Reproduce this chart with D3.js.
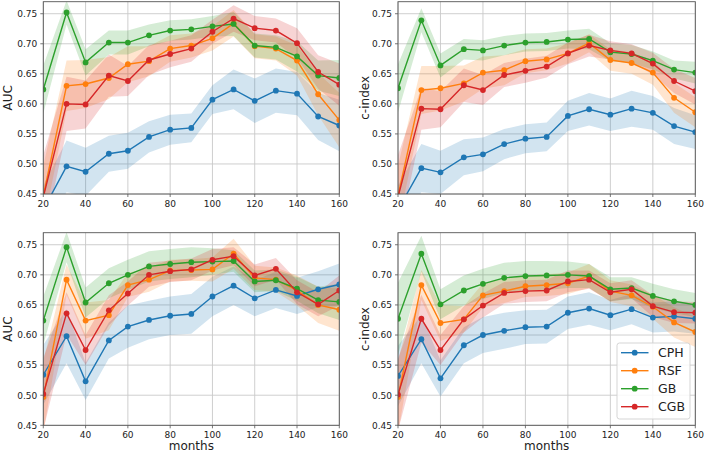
<!DOCTYPE html>
<html>
<head>
<meta charset="utf-8">
<script src="https://cdn.jsdelivr.net/npm/d3@7"></script>
<style>
  html, body { margin: 0; padding: 0; background: #fff; }
  svg { display: block; font-family: "DejaVu Sans", sans-serif; }
</style>
</head>
<body>
<svg id="chart" width="704" height="454"></svg>
<script>
// ---------------- DATA ----------------
const months = [20, 31, 40, 51, 60, 70, 80, 90, 100, 110, 120, 130, 140, 150, 160];
const xTicks = [20, 40, 60, 80, 100, 120, 140, 160];
const yTicks = [0.45, 0.50, 0.55, 0.60, 0.65, 0.70, 0.75];
const seriesNames = ["CPH", "RSF", "GB", "CGB"];
const seriesColors = ["#1f77b4", "#ff7f0e", "#2ca02c", "#d62728"];

// Panel 1: top-left, AUC
const p1_CPH     = [0.424, 0.496, 0.487, 0.517, 0.522, 0.545, 0.557, 0.560, 0.607, 0.624, 0.605, 0.622, 0.617, 0.579, 0.564];
const p1_CPH_err = [0.040, 0.043, 0.040, 0.030, 0.030, 0.026, 0.025, 0.024, 0.024, 0.033, 0.037, 0.037, 0.036, 0.039, 0.043];
const p1_RSF     = [0.447, 0.630, 0.633, 0.643, 0.666, 0.671, 0.692, 0.697, 0.709, 0.734, 0.696, 0.692, 0.672, 0.616, 0.573];
const p1_RSF_err = [0.050, 0.042, 0.040, 0.035, 0.030, 0.025, 0.022, 0.020, 0.020, 0.022, 0.020, 0.020, 0.025, 0.035, 0.045];
const p1_GB      = [0.624, 0.752, 0.669, 0.702, 0.702, 0.714, 0.722, 0.724, 0.729, 0.733, 0.697, 0.694, 0.679, 0.647, 0.643];
const p1_GB_err  = [0.040, 0.020, 0.022, 0.020, 0.020, 0.018, 0.017, 0.017, 0.017, 0.020, 0.020, 0.020, 0.025, 0.025, 0.030];
const p1_CGB     = [0.445, 0.600, 0.599, 0.647, 0.638, 0.673, 0.683, 0.692, 0.720, 0.742, 0.726, 0.722, 0.701, 0.653, 0.632];
const p1_CGB_err = [0.070, 0.045, 0.040, 0.035, 0.025, 0.025, 0.022, 0.022, 0.020, 0.022, 0.020, 0.020, 0.025, 0.028, 0.035];

// Panel 2: top-right, c-index
const p2_CPH     = [0.424, 0.493, 0.486, 0.511, 0.516, 0.533, 0.542, 0.545, 0.580, 0.591, 0.582, 0.592, 0.585, 0.563, 0.553];
const p2_CPH_err = [0.040, 0.040, 0.036, 0.030, 0.028, 0.025, 0.024, 0.024, 0.025, 0.027, 0.027, 0.030, 0.028, 0.030, 0.028];
const p2_RSF     = [0.447, 0.623, 0.626, 0.634, 0.652, 0.656, 0.671, 0.674, 0.684, 0.701, 0.673, 0.668, 0.652, 0.610, 0.586];
const p2_RSF_err = [0.050, 0.040, 0.037, 0.030, 0.027, 0.025, 0.020, 0.018, 0.017, 0.015, 0.018, 0.018, 0.020, 0.025, 0.025];
const p2_GB      = [0.626, 0.739, 0.664, 0.691, 0.689, 0.697, 0.702, 0.703, 0.707, 0.708, 0.686, 0.683, 0.672, 0.657, 0.652];
const p2_GB_err  = [0.040, 0.020, 0.020, 0.017, 0.017, 0.016, 0.015, 0.015, 0.015, 0.017, 0.015, 0.015, 0.015, 0.015, 0.018];
const p2_CGB     = [0.445, 0.592, 0.591, 0.631, 0.623, 0.648, 0.655, 0.662, 0.684, 0.697, 0.689, 0.684, 0.667, 0.638, 0.621];
const p2_CGB_err = [0.070, 0.035, 0.030, 0.028, 0.025, 0.020, 0.020, 0.018, 0.018, 0.018, 0.015, 0.015, 0.018, 0.020, 0.022];

// Panel 3: bottom-left, AUC
const p3_CPH     = [0.534, 0.598, 0.523, 0.591, 0.614, 0.625, 0.632, 0.635, 0.664, 0.682, 0.661, 0.675, 0.665, 0.676, 0.684];
const p3_CPH_err = [0.050, 0.045, 0.031, 0.030, 0.035, 0.032, 0.032, 0.033, 0.033, 0.032, 0.030, 0.030, 0.030, 0.030, 0.035];
const p3_RSF     = [0.497, 0.692, 0.624, 0.633, 0.683, 0.692, 0.707, 0.708, 0.709, 0.735, 0.695, 0.692, 0.674, 0.650, 0.642];
const p3_RSF_err = [0.060, 0.025, 0.030, 0.025, 0.020, 0.020, 0.018, 0.018, 0.020, 0.025, 0.020, 0.020, 0.025, 0.030, 0.035];
const p3_GB      = [0.624, 0.746, 0.654, 0.686, 0.700, 0.714, 0.718, 0.721, 0.722, 0.723, 0.689, 0.691, 0.677, 0.658, 0.655];
const p3_GB_err  = [0.040, 0.025, 0.025, 0.025, 0.025, 0.025, 0.025, 0.025, 0.022, 0.018, 0.018, 0.018, 0.020, 0.022, 0.030];
const p3_CGB     = [0.502, 0.636, 0.575, 0.641, 0.669, 0.700, 0.706, 0.709, 0.725, 0.731, 0.699, 0.710, 0.671, 0.651, 0.674];
const p3_CGB_err = [0.060, 0.035, 0.025, 0.025, 0.020, 0.020, 0.018, 0.018, 0.018, 0.015, 0.018, 0.018, 0.020, 0.020, 0.025];

// Panel 4: bottom-right, c-index
const p4_CPH     = [0.532, 0.593, 0.528, 0.583, 0.600, 0.607, 0.613, 0.614, 0.637, 0.644, 0.633, 0.643, 0.629, 0.631, 0.627];
const p4_CPH_err = [0.050, 0.040, 0.030, 0.030, 0.030, 0.030, 0.028, 0.028, 0.027, 0.027, 0.025, 0.025, 0.025, 0.025, 0.025];
const p4_RSF     = [0.497, 0.683, 0.620, 0.626, 0.666, 0.673, 0.681, 0.683, 0.686, 0.698, 0.673, 0.666, 0.647, 0.621, 0.605];
const p4_RSF_err = [0.060, 0.025, 0.030, 0.022, 0.020, 0.020, 0.018, 0.018, 0.018, 0.020, 0.018, 0.018, 0.020, 0.025, 0.025];
const p4_GB      = [0.627, 0.735, 0.651, 0.674, 0.685, 0.695, 0.698, 0.699, 0.700, 0.698, 0.676, 0.678, 0.665, 0.656, 0.650];
const p4_GB_err  = [0.060, 0.030, 0.025, 0.025, 0.025, 0.025, 0.025, 0.024, 0.022, 0.020, 0.020, 0.018, 0.020, 0.020, 0.020];
const p4_CGB     = [0.501, 0.627, 0.575, 0.626, 0.649, 0.670, 0.673, 0.674, 0.689, 0.692, 0.671, 0.676, 0.648, 0.638, 0.637];
const p4_CGB_err = [0.060, 0.040, 0.025, 0.022, 0.020, 0.018, 0.018, 0.018, 0.018, 0.015, 0.015, 0.015, 0.018, 0.018, 0.018];

// ---------------- PANELS ----------------
const panels = [
  { id: "p1", ylabel: "AUC",     xlabel: null,     x0: 43.3, x1: 339.3, y0: 1.7,   y1: 194.0, yl: 11.7,  legend: false,
    series: [[p1_CPH, p1_CPH_err], [p1_RSF, p1_RSF_err], [p1_GB, p1_GB_err], [p1_CGB, p1_CGB_err]] },
  { id: "p2", ylabel: "c-index", xlabel: null,     x0: 398.0, x1: 695.3, y0: 1.7,  y1: 194.0, yl: 369.3, legend: false,
    series: [[p2_CPH, p2_CPH_err], [p2_RSF, p2_RSF_err], [p2_GB, p2_GB_err], [p2_CGB, p2_CGB_err]] },
  { id: "p3", ylabel: "AUC",     xlabel: "months", x0: 43.3, x1: 339.3, y0: 232.7, y1: 425.3, yl: 11.7,  legend: false,
    series: [[p3_CPH, p3_CPH_err], [p3_RSF, p3_RSF_err], [p3_GB, p3_GB_err], [p3_CGB, p3_CGB_err]] },
  { id: "p4", ylabel: "c-index", xlabel: "months", x0: 398.0, x1: 695.3, y0: 232.7, y1: 425.3, yl: 369.3, legend: true,
    series: [[p4_CPH, p4_CPH_err], [p4_RSF, p4_RSF_err], [p4_GB, p4_GB_err], [p4_CGB, p4_CGB_err]] }
];

const svg = d3.select("#chart");
const defs = svg.append("defs");

panels.forEach(p => {
  const x = d3.scaleLinear().domain([20, 160]).range([p.x0, p.x1]);
  const y = d3.scaleLinear().domain([0.45, 0.77]).range([p.y1, p.y0]);
  const g = svg.append("g");

  defs.append("clipPath").attr("id", "clip-" + p.id)
    .append("rect").attr("x", p.x0).attr("y", p.y0)
    .attr("width", p.x1 - p.x0).attr("height", p.y1 - p.y0);

  // grid
  const grid = g.append("g");
  grid.selectAll("line.gx").data(xTicks).enter().append("line")
    .attr("x1", d => x(d)).attr("x2", d => x(d))
    .attr("y1", p.y0).attr("y2", p.y1)
    .attr("stroke", "#c8c8c8").attr("stroke-width", 0.9);
  grid.selectAll("line.gy").data(yTicks).enter().append("line")
    .attr("x1", p.x0).attr("x2", p.x1)
    .attr("y1", d => y(d)).attr("y2", d => y(d))
    .attr("stroke", "#c8c8c8").attr("stroke-width", 0.9);

  const plot = g.append("g").attr("clip-path", "url(#clip-" + p.id + ")");

  const area = d3.area()
    .x((d, i) => x(months[i]))
    .y0(d => y(d[0] - d[1]))
    .y1(d => y(d[0] + d[1]));
  const line = d3.line()
    .x((d, i) => x(months[i]))
    .y(d => y(d));

  // bands
  p.series.forEach((s, k) => {
    const vals = s[0], errs = s[1];
    const pts = vals.map((v, i) => [v, errs[i]]);
    plot.append("path").datum(pts)
      .attr("d", area)
      .attr("fill", seriesColors[k]).attr("fill-opacity", 0.2)
      .attr("stroke", "none");
  });
  // lines + markers
  p.series.forEach((s, k) => {
    const vals = s[0];
    plot.append("path").datum(vals)
      .attr("d", line)
      .attr("fill", "none")
      .attr("stroke", seriesColors[k]).attr("stroke-width", 1.4);
    plot.selectAll(null).data(vals).enter().append("circle")
      .attr("cx", (d, i) => x(months[i]))
      .attr("cy", d => y(d))
      .attr("r", 2.9)
      .attr("fill", seriesColors[k]);
  });

  // frame
  g.append("rect")
    .attr("x", p.x0).attr("y", p.y0)
    .attr("width", p.x1 - p.x0).attr("height", p.y1 - p.y0)
    .attr("fill", "none").attr("stroke", "#555").attr("stroke-width", 0.9);

  // ticks
  const ax = g.append("g").attr("font-size", 9).attr("fill", "#222");
  ax.selectAll("line.tx").data(xTicks).enter().append("line")
    .attr("x1", d => x(d)).attr("x2", d => x(d))
    .attr("y1", p.y1).attr("y2", p.y1 + 3)
    .attr("stroke", "#555").attr("stroke-width", 0.8);
  ax.selectAll("text.tx").data(xTicks).enter().append("text")
    .attr("x", d => x(d)).attr("y", p.y1 + 12.5)
    .attr("text-anchor", "middle")
    .text(d => d);
  ax.selectAll("line.ty").data(yTicks).enter().append("line")
    .attr("x1", p.x0 - 3).attr("x2", p.x0)
    .attr("y1", d => y(d)).attr("y2", d => y(d))
    .attr("stroke", "#555").attr("stroke-width", 0.8);
  ax.selectAll("text.ty").data(yTicks).enter().append("text")
    .attr("x", p.x0 - 6).attr("y", d => y(d) + 3.3)
    .attr("text-anchor", "end")
    .text(d => d3.format(".2f")(d));

  // axis labels
  g.append("text")
    .attr("transform", `translate(${p.yl},${(p.y0 + p.y1) / 2}) rotate(-90)`)
    .attr("text-anchor", "middle")
    .attr("font-size", 12).attr("fill", "#222")
    .text(p.ylabel);
  if (p.xlabel) {
    g.append("text")
      .attr("x", (p.x0 + p.x1) / 2).attr("y", 450)
      .attr("text-anchor", "middle")
      .attr("font-size", 12).attr("fill", "#222")
      .text(p.xlabel);
  }

  // legend
  if (p.legend) {
    const lg = g.append("g");
    lg.append("rect")
      .attr("x", 617).attr("y", 343).attr("width", 73).attr("height", 76)
      .attr("rx", 2.5)
      .attr("fill", "#fff").attr("fill-opacity", 0.85)
      .attr("stroke", "#d0d0d0").attr("stroke-width", 0.9);
    seriesNames.forEach((name, k) => {
      const yy = 352.7 + k * 18;
      lg.append("line")
        .attr("x1", 621).attr("x2", 648.5).attr("y1", yy).attr("y2", yy)
        .attr("stroke", seriesColors[k]).attr("stroke-width", 1.4);
      lg.append("circle").attr("cx", 634.7).attr("cy", yy).attr("r", 2.9)
        .attr("fill", seriesColors[k]);
      lg.append("text")
        .attr("x", 658).attr("y", yy + 4.5)
        .attr("font-size", 12.5).attr("fill", "#222")
        .text(name);
    });
  }
});
</script>
</body>
</html>
